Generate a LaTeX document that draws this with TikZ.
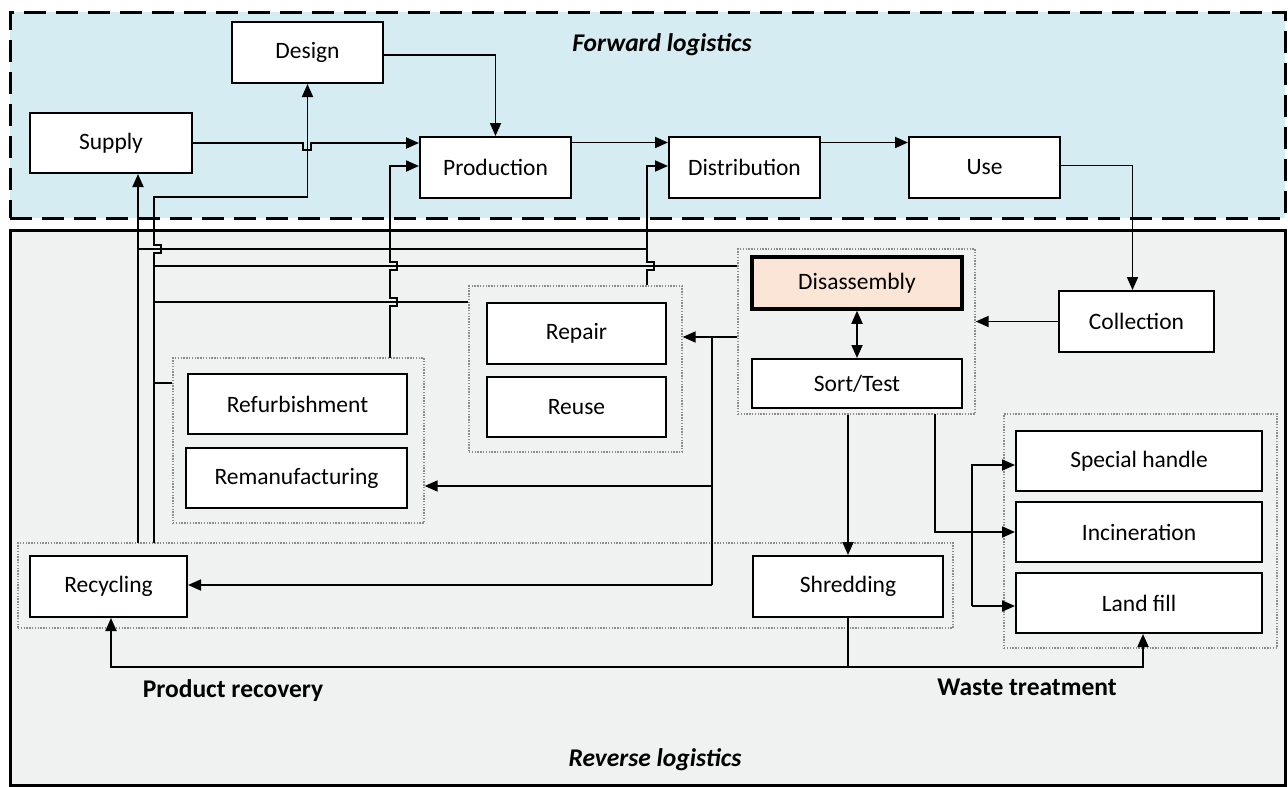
\documentclass[tikz,border=0pt]{standalone}
\usepackage{fontspec}
\setmainfont{Carlito}
\usetikzlibrary{arrows.meta,calc}
\definecolor{fwdblue}{RGB}{212,236,242}
\definecolor{revgray}{RGB}{240,242,242}
\definecolor{peach}{RGB}{251,229,214}
\definecolor{dotgray}{RGB}{140,140,140}
\begin{document}
\begin{tikzpicture}[x=1pt,y=-1pt,
  box/.style={draw, line width=2pt, fill=white, inner sep=0pt, font=\fontsize{23.5}{28}\selectfont},
  grp/.style={draw=dotgray, line width=1.4pt, dash pattern=on 1.4pt off 1.4pt, inner sep=0pt},
  conn/.style={line width=1.8pt},
  arr/.style={conn, -{Triangle[length=13pt,width=11pt]}},
  darr/.style={conn, {Triangle[length=13pt,width=11pt]}-{Triangle[length=13pt,width=11pt]}},
  lbl/.style={font=\fontsize{25.5}{30}\selectfont\bfseries},
  ilbl/.style={font=\fontsize{25.5}{30}\selectfont\bfseries\itshape}]
\useasboundingbox (0,0) rectangle (1288,787);
\fill[white] (0,0) rectangle (1288,787);
% regions
\node[draw, fill=fwdblue, line width=3pt, dash pattern=on 22pt off 10pt, minimum width=1275pt, minimum height=206pt, inner sep=0pt] (fwd) at (647.5,115) {};
\node[draw, fill=revgray, line width=3pt, minimum width=1275pt, minimum height=555pt, inner sep=0pt] (rev) at (647.5,507.5) {};
% groups
\node[grp, minimum width=237pt, minimum height=165pt] (dgrp) at (856.5,331.5) {};
\node[grp, minimum width=213pt, minimum height=166pt] (rgrp) at (575.5,369) {};
\node[grp, minimum width=251pt, minimum height=165pt] (fgrp) at (298.5,440.5) {};
\node[grp, minimum width=935pt, minimum height=85pt] (cgrp) at (485.5,585.5) {};
\node[grp, minimum width=273pt, minimum height=234pt] (wgrp) at (1140.5,531) {};
% boxes
\node[box, minimum width=151pt, minimum height=61pt] (design) at (307.5,52.5) {Design};
\node[box, minimum width=162pt, minimum height=60pt] (supply) at (111,143) {Supply};
\node[box, minimum width=151pt, minimum height=61pt] (production) at (495.5,167.5) {Production};
\node[box, minimum width=151pt, minimum height=61pt] (distribution) at (744.5,167.5) {Distribution};
\node[box, minimum width=151pt, minimum height=61pt] (use) at (984.5,167.5) {Use};
\node[box, minimum width=155pt, minimum height=61pt] (collection) at (1136.5,321.5) {Collection};
\node[box, fill=peach, line width=3.5pt, minimum width=210pt, minimum height=52pt] (disassembly) at (857,283) {Disassembly};
\node[box, minimum width=210pt, minimum height=49pt] (sorttest) at (857,383.5) {Sort/Test};
\node[box, minimum width=179pt, minimum height=61pt] (repair) at (576.5,333.5) {Repair};
\node[box, minimum width=179pt, minimum height=60pt] (reuse) at (576.5,407) {Reuse};
\node[box, minimum width=219pt, minimum height=60pt] (refurb) at (297.5,404) {Refurbishment};
\node[box, minimum width=221pt, minimum height=60pt] (reman) at (296.5,478) {Remanufacturing};
\node[box, minimum width=157pt, minimum height=61pt] (recycling) at (108.5,586.5) {Recycling};
\node[box, minimum width=190pt, minimum height=61pt] (shredding) at (848,586.5) {Shredding};
\node[box, minimum width=246pt, minimum height=60pt] (special) at (1139,461) {Special handle};
\node[box, minimum width=246pt, minimum height=60pt] (incineration) at (1139,532) {Incineration};
\node[box, minimum width=246pt, minimum height=60pt] (landfill) at (1139,603) {Land fill};
% labels
\node[ilbl] (fl) at (662,45) {Forward logistics};
\node[lbl] (pr) at (233,691) {Product recovery};
\node[lbl] (wt) at (1027,687) {Waste treatment};
\node[ilbl] (rl) at (655,760) {Reverse logistics};
% forward connectors
\draw[arr] (supply.east) -- (303,143) -- (303,150) -- (311,150) -- (311,143) -- (production.west |- supply.east);
\draw[arr] ([yshift=-2.5pt]design.east) -| (production.north);
\draw[arr] ([yshift=25pt]production.east) -- ([yshift=25pt]distribution.west);
\draw[arr] ([yshift=25pt]distribution.east) -- ([yshift=25pt]use.west);
\draw[arr] ([yshift=2pt]use.east) -| ([xshift=-4pt]collection.north);
% reverse connectors
\draw[arr] (collection.west) -- (collection.west -| dgrp.east);
\draw[darr] (disassembly.south) -- (sorttest.north);
\coordinate (j1) at (712,337);
\coordinate (j2) at (712,486);
\coordinate (j3) at (712,585);
\draw[arr] (dgrp.west |- j1) -- (rgrp.east |- j1);
\draw[conn] (j1) -- (j3);
\draw[arr] (j2) -- (fgrp.east |- j2);
\draw[arr] (j3) -- (recycling.east |- j3);
\draw[arr] (dgrp.south -| shredding.north) -- (shredding.north);
\coordinate (k1) at (935,414);
\coordinate (k2) at (972,465);
\coordinate (k3) at (972,606);
\draw[arr] (k1) |- (incineration.west);
\draw[arr] (k3) -- (k2) -- (k2 -| special.west);
\draw[arr] (k3) -- (k3 -| landfill.west);
\coordinate (b1) at (848,667);
\draw[conn] (shredding.south) -- (b1);
\draw[arr] (b1) -| ([xshift=2.5pt]recycling.south);
\draw[arr] (b1) -| ([xshift=4pt]landfill.south);
% feedback lines
\coordinate (v1) at (138,543);
\coordinate (v2) at (154,543);
\draw[arr] (v1) -- (v1 |- supply.south);
\draw[conn] (138,249) -- (647,249);
\draw[arr] (v2) -- (154,253) -- (161,253) -- (161,245) -- (154,245) -- (154,197) -| (design.south);
\coordinate (h1) at (154,266);
\coordinate (h2) at (154,302);
\coordinate (h3) at (154,383);
\draw[conn] (h1) -- (h1 -| dgrp.west);
\draw[conn] (h2) -- (h2 -| rgrp.west);
\draw[conn] (h3) -- (h3 -| fgrp.west);
\draw[arr] (390,358) -- (390,306) -- (397,306) -- (397,298) -- (390,298) -- (390,270) -- (397,270) -- (397,262) -- (390,262) |- ([yshift=1.5pt]production.west);
\draw[arr] (rgrp.north -| 647,0) -- (647,270) -- (654,270) -- (654,262) -- (647,262) |- ([yshift=1.5pt]distribution.west);
\end{tikzpicture}
\end{document}
